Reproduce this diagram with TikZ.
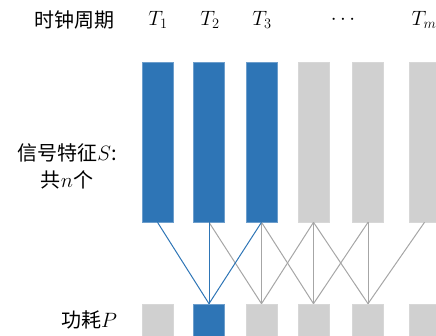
\documentclass[tikz,border=0pt]{standalone}
\usepackage{fontspec}
\usepackage{xcolor}
\usepackage{tikz}
\usetikzlibrary{positioning}
\newfontfamily\cjk{Noto Sans CJK SC}
\definecolor{barblue}{HTML}{2E75B6}
\definecolor{bargray}{HTML}{D0D0D0}
\definecolor{linegray}{HTML}{A6A6A6}
\tikzset{lbl/.style={font=\fontsize{20}{27}\selectfont,inner sep=0pt,align=center},
  sig/.style={draw=barblue!70!white,fill=barblue,line width=0.6pt,
  minimum width=31pt,minimum height=160pt,inner sep=0pt},
  idle/.style={sig,draw=bargray!85!white,fill=bargray},
  pwr/.style={sig,minimum height=40pt},
  pwridle/.style={idle,minimum height=40pt},
  bluelink/.style={draw=barblue,line width=1pt},
  graylink/.style={draw=linegray,line width=1pt}}
\begin{document}
\begin{tikzpicture}[x=1pt,y=-1pt]
\useasboundingbox (0,0) rectangle (436,336);
% header row
\node[lbl] (clk) at (74,20) {\cjk 时钟周期};
\node[lbl] (t1) at (158,20) {$T_1$};
\node[lbl] (t2) at (210,20) {$T_2$};
\node[lbl] (t3) at (262,20) {$T_3$};
\node[lbl] (dots) at (343,20) {$\cdots$};
\node[lbl] (tm) at (424,20) {$T_m$};
% signal features
\node[lbl] (feat) at (67,166) {\cjk 信号特征$S$:\\\cjk 共$n$个};
\node[sig] (s1) at (157.5,142) {};
\node[sig] (s2) at (209,142) {};
\node[sig] (s3) at (261.5,142) {};
\node[idle] (s4) at (313.5,142) {};
\node[idle] (s5) at (368,142) {};
\node[idle] (s6) at (424.5,142) {};
% power
\node[lbl] (pow) at (89,320) {\cjk 功耗$P$};
\node[pwridle] (p1) at (157.5,324) {};
\node[pwr] (p2) at (209,324) {};
\node[pwridle] (p3) at (261.5,324) {};
\node[pwridle] (p4) at (313.5,324) {};
\node[pwridle] (p5) at (368,324) {};
\node[pwridle] (p6) at (424.5,324) {};
% links
\draw[graylink] (s2.south) -- (p3.north);
\draw[graylink] (s3.south) -- (p3.north);
\draw[graylink] (s4.south) -- (p3.north);
\draw[graylink] (s3.south) -- (p4.north);
\draw[graylink] (s4.south) -- (p4.north);
\draw[graylink] (s5.south) -- (p4.north);
\draw[graylink] (s4.south) -- (p5.north);
\draw[graylink] (s5.south) -- (p5.north);
\draw[graylink] (s6.south) -- (p5.north);
\draw[bluelink] (s1.south) -- (p2.north);
\draw[bluelink] (s2.south) -- (p2.north);
\draw[bluelink] (s3.south) -- (p2.north);
\end{tikzpicture}
\end{document}
